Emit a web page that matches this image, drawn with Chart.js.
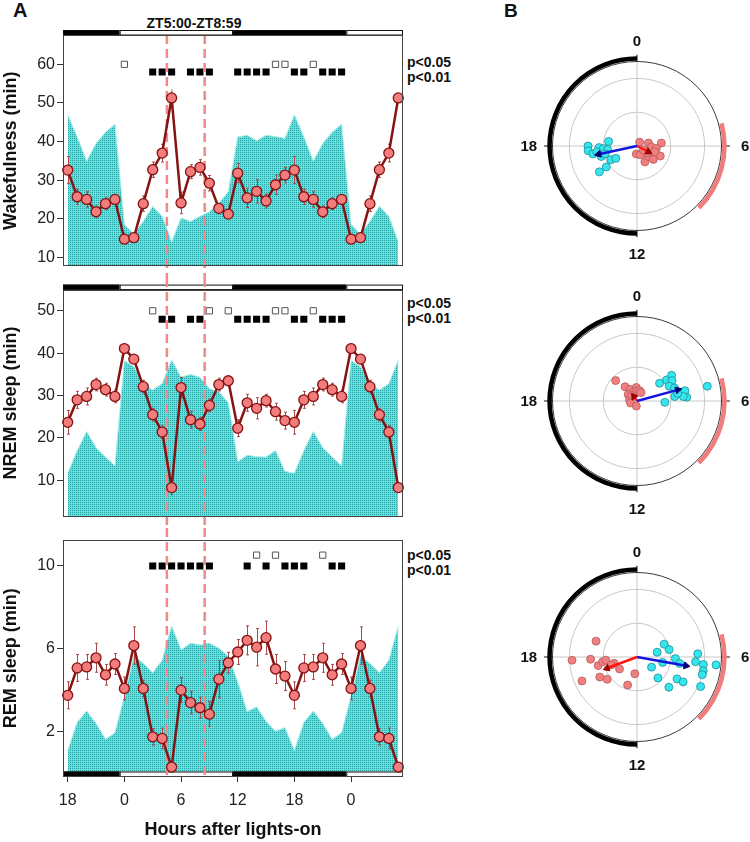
<!DOCTYPE html>
<html>
<head>
<meta charset="utf-8">
<script src="https://cdn.jsdelivr.net/npm/chart.js@4.4.1/dist/chart.umd.min.js"></script>
<style>
body { margin: 0; background: #fff; width: 750px; height: 842px; position: relative; overflow: hidden; font-family: "Liberation Sans", Arial, sans-serif; }
canvas { position: absolute; }
.t { position: absolute; font-weight: bold; color: #111; white-space: nowrap; }
.p { position: absolute; left: 407px; font-weight: bold; font-size: 14px; line-height: 15px; color: #111; }
</style>
</head>
<body>
<div class="t" style="left:13px;top:0px;font-size:20px;line-height:20px">A</div>
<div class="t" style="left:504px;top:1px;font-size:19px;line-height:19px">B</div>
<div class="t" style="left:94px;top:15px;width:200px;text-align:center;font-size:14px;line-height:16px">ZT5:00-ZT8:59</div>
<div class="p" style="top:55px">p&lt;0.05<br>p&lt;0.01</div>
<div class="p" style="top:296px">p&lt;0.05<br>p&lt;0.01</div>
<div class="p" style="top:548px">p&lt;0.05<br>p&lt;0.01</div>

<canvas id="wake" width="420" height="278" style="left:0;top:0"></canvas>
<canvas id="nrem" width="420" height="250" style="left:0;top:278px"></canvas>
<canvas id="rem" width="420" height="314" style="left:0;top:528px"></canvas>
<canvas id="polWake" width="250" height="250" style="left:512px;top:21px"></canvas>
<canvas id="polNrem" width="250" height="250" style="left:512px;top:276px"></canvas>
<canvas id="polRem" width="250" height="250" style="left:512px;top:532px"></canvas>

<script>
// hours plotted on the x axis (double-plotted day, ZT18 .. ZT5 of the next day)
const xPlot = [-6, -5, -4, -3, -2, -1, 0, 1, 2, 3, 4, 5, 6, 7, 8, 9, 10, 11,
               12, 13, 14, 15, 16, 17, 18, 19, 20, 21, 22, 23, 24, 25, 26, 27, 28, 29];
const xTickVals = [-6, 0, 6, 12, 18, 24];
const xTickLabels = ['18', '0', '6', '12', '18', '0'];
const lightDark = [[-6.5, -0.5, 1], [-0.5, 11.5, 0], [11.5, 23.5, 1], [23.5, 29.5, 0]];
const zeitWindow = [4.5, 8.5];

// values per ZT hour 0..23
const wakeMean = [14.7, 15.1, 23.9, 32.7, 37.0, 51.3, 24.1, 32.2, 33.3, 29.2, 22.7, 21.2,
                  31.8, 25.4, 27.1, 24.6, 28.8, 31.3, 32.6, 25.7, 25.0, 21.8, 23.9, 25.0];
const wakeSem = [1.0, 1.2, 2.0, 2.0, 2.3, 1.0, 2.8, 1.8, 2.0, 2.0, 1.2, 1.0,
                 2.5, 2.5, 3.0, 1.8, 2.5, 2.0, 3.5, 2.0, 2.0, 1.5, 1.5, 1.2];
const wakeCtrl = [18.5, 16.0, 19.3, 23.2, 20.6, 14.0, 20.2, 19.3, 20.6, 21.8, 24.0, 27.0,
                  41.2, 41.6, 40.2, 41.6, 41.3, 40.8, 46.9, 41.2, 34.9, 39.5, 42.4, 44.5];
const wakeP05 = [0, 16, 17, 20];
const wakeP01 = [3, 4, 5, 7, 8, 9, 12, 13, 14, 15, 18, 19, 21, 22, 23];
const wakeTicks = [10, 20, 30, 40, 50, 60];

const nremMean = [41.1, 38.6, 32.1, 25.5, 21.4, 8.3, 31.9, 24.3, 23.3, 27.7, 32.6, 33.5,
                  22.3, 28.3, 27.0, 28.8, 26.2, 24.1, 23.7, 29.0, 29.8, 32.6, 31.4, 29.8];
const nremSem = [1.0, 1.0, 1.5, 1.5, 1.5, 1.0, 2.4, 2.0, 1.5, 1.5, 1.5, 1.0,
                 2.0, 2.0, 2.5, 1.5, 2.0, 2.0, 2.8, 2.0, 2.0, 1.5, 1.5, 1.5];
const nremCtrl = [38.2, 36.8, 32.8, 31.3, 32.8, 38.4, 34.3, 35.0, 34.3, 31.6, 30.9, 28.3,
                  14.4, 15.9, 15.6, 15.5, 17.0, 12.1, 11.7, 17.0, 21.5, 17.7, 15.5, 13.4];
const nremP05 = [3, 9, 11, 16, 17, 20];
const nremP01 = [4, 5, 7, 8, 12, 13, 14, 15, 18, 19, 21, 22, 23];
const nremTicks = [10, 20, 30, 40, 50];

const remMean = [4.09, 6.16, 4.09, 1.76, 1.68, 0.30, 4.01, 3.41, 3.16, 2.85, 4.54, 5.33,
                 5.85, 6.41, 6.08, 6.54, 5.03, 4.69, 3.76, 5.08, 5.13, 5.57, 4.75, 5.27];
const remSem = [0.55, 0.9, 0.4, 0.4, 0.5, 0.2, 0.6, 0.55, 0.5, 0.6, 0.9, 0.5,
                0.6, 0.7, 0.9, 0.8, 0.7, 0.7, 0.65, 0.65, 0.6, 0.7, 0.5, 0.5];
const remCtrl = [3.7, 5.65, 5.3, 4.85, 5.45, 7.1, 5.95, 6.27, 6.19, 6.27, 6.03, 5.64,
                 4.4, 2.97, 3.2, 2.5, 2.03, 2.2, 1.1, 2.45, 3.0, 2.4, 1.64, 1.95];
const remP05 = [14, 16, 21];
const remP01 = [3, 4, 5, 6, 7, 8, 9, 13, 15, 17, 18, 19, 22, 23];
const remTicks = [2, 6, 10];

// circular plots: phase (h) and amplitude (relative), per animal
const wakeCyanPhase = [18.0, 17.63, 17.32, 17.83, 17.71, 18.61, 17.54, 16.91, 16.16, 15.98, 15.71, 15.70, 17.45, 17.07];
const wakeCyanAmp = [0.58, 0.58, 0.53, 0.45, 0.40, 0.34, 0.35, 0.44, 0.35, 0.29, 0.44, 0.54, 0.48, 0.39];
const wakeRedPhase = [2.27, 5.04, 5.54, 6.25, 6.51, 12.32, 10.7, 10.24, 8.88, 8.63, 7.55, 8.33, 8.18, 7.21];
const wakeRedAmp = [0.055, 0.14, 0.29, 0.17, 0.23, 0.095, 0.11, 0.21, 0.18, 0.25, 0.30, 0.14, 0.09, 0.22];
const wakeVectors = [[17.2, 0.465], [7.8, 0.15]];

const nremCyanPhase = [3.45, 3.64, 3.56, 3.99, 4.35, 4.73, 5.55, 5.26, 5.19, 5.71, 5.63, 6.18, 5.21, 5.29];
const nremCyanAmp = [0.34, 0.43, 0.51, 0.48, 0.42, 0.47, 0.45, 0.51, 0.58, 0.59, 0.55, 0.33, 0.85, 0.49];
const nremRedPhase = [20.91, 21.33, 21.95, 23.8, 22.4, 20.45, 18.61, 16.89, 12.5, 0.0, 0.95, 1.7, 21.0];
const nremRedAmp = [0.35, 0.22, 0.16, 0.16, 0.11, 0.13, 0.09, 0.08, 0.06, 0.12, 0.125, 0.11, 0.09];
const nremVectors = [[4.98, 0.50], [21.67, 0.065]];

const remCyanPhase = [5.11, 4.32, 5.13, 6.8, 8.33, 9.0, 8.9, 7.91, 7.89, 6.16, 6.57, 6.31, 5.8, 6.43, 6.78, 7.01, 7.66, 6.38];
const remCyanAmp = [0.245, 0.355, 0.39, 0.31, 0.21, 0.35, 0.52, 0.54, 0.62, 0.455, 0.51, 0.695, 0.72, 0.79, 0.80, 0.80, 0.83, 0.94];
const remRedPhase = [17.81, 19.41, 17.82, 16.43, 17.17, 17.47, 17.61, 16.11, 15.55, 16.96, 15.71, 13.23, 12.49, 16.87];
const remRedAmp = [0.77, 0.52, 0.55, 0.71, 0.47, 0.41, 0.37, 0.50, 0.44, 0.28, 0.25, 0.35, 0.20, 0.32];
const remVectors = [[6.67, 0.59], [16.63, 0.38]];

const polarRings = [0.4, 0.8];
const polarLabels = [['0', 0, 1.24], ['6', 6, 1.28], ['12', 12, 1.28], ['18', 18, 1.28]];
const hilightArc = [5, 9];

Chart.defaults.font.family = '"Liberation Sans", Arial, sans-serif';

function hourOf(x) { return (x + 24) % 24; }

function dotPattern() {
  const c = document.createElement('canvas');
  c.width = 2; c.height = 2;
  const g = c.getContext('2d');
  g.fillStyle = '#60e2e2';
  g.fillRect(0, 0, 2, 2);
  g.fillStyle = '#2aa0a0';
  g.fillRect(0, 0, 1, 1);
  return g.createPattern(c, 'repeat');
}
const cyanFill = dotPattern();

const panelDecor = {
  id: 'panelDecor',
  beforeDatasetDraw(chart, args, o) {
    if (args.index !== 0) return;
    const { ctx, chartArea: a, scales: { x, y } } = chart;
    ctx.save();
    // light/dark bar
    const by = o.bar === 'top' ? a.top - 5 : a.bottom - 5.5;
    lightDark.forEach(seg => {
      const x0 = x.getPixelForValue(seg[0]), x1 = x.getPixelForValue(seg[1]);
      ctx.fillStyle = seg[2] ? '#000' : '#fff';
      ctx.fillRect(x0, by, x1 - x0, 5);
      ctx.strokeStyle = '#111';
      ctx.lineWidth = 1;
      ctx.strokeRect(x0 + 0.5, by + 0.5, x1 - x0 - 1, 4.5);
    });
    // dashed window lines
    ctx.strokeStyle = '#f28888';
    ctx.lineWidth = 2.5;
    ctx.setLineDash([9, 5]);
    const y0 = o.dashTop === 'area' ? a.top : 0;
    const y1 = o.dashBottom === 'area' ? a.bottom : chart.height;
    zeitWindow.forEach(v => {
      const px = x.getPixelForValue(v);
      ctx.beginPath();
      ctx.moveTo(px, y0);
      ctx.lineTo(px, y1);
      ctx.stroke();
    });
    // error bars
    ctx.setLineDash([]);
    ctx.strokeStyle = '#a84a4a';
    ctx.lineWidth = 1;
    xPlot.forEach(xv => {
      const h = hourOf(xv);
      const px = Math.round(x.getPixelForValue(xv)) + 0.5;
      const yt = y.getPixelForValue(o.mean[h] + o.sem[h]);
      const yb = y.getPixelForValue(o.mean[h] - o.sem[h]);
      ctx.beginPath();
      ctx.moveTo(px, yt); ctx.lineTo(px, yb);
      ctx.moveTo(px - 1.5, yt); ctx.lineTo(px + 1.5, yt);
      ctx.moveTo(px - 1.5, yb); ctx.lineTo(px + 1.5, yb);
      ctx.stroke();
    });
    ctx.restore();
  },
  afterDraw(chart) {
    const { ctx, chartArea: a } = chart;
    ctx.save();
    ctx.strokeStyle = '#444';
    ctx.lineWidth = 1;
    ctx.strokeRect(Math.round(a.left) + 0.5, Math.round(a.top) + 0.5, Math.round(a.right - a.left) - 1, Math.round(a.bottom - a.top) - 1);
    ctx.restore();
  }
};

function sleepPanel(id, opt) {
  const ctx = document.getElementById(id).getContext('2d');
  const xAxis = {
    type: 'linear', min: -6.5, max: 29.5, display: opt.showX,
    afterBuildTicks: s => { s.ticks = xTickVals.map(v => ({ value: v })); },
    ticks: { callback: (v, i) => xTickLabels[i], font: { size: 16 }, color: '#222', padding: 9, maxRotation: 0, autoSkip: false },
    grid: { drawOnChartArea: false, tickLength: 5, color: '#333' },
    border: { display: false },
    title: { display: true, text: 'Hours after lights-on', font: { size: 18, weight: 'bold' }, color: '#111', padding: { top: 0, bottom: 1 } }
  };
  if (opt.showX) xAxis.afterFit = s => { s.height = 65; };
  return new Chart(ctx, {
    type: 'line',
    data: {
      datasets: [
        {
          data: xPlot.map(x => ({ x: x, y: opt.mean[hourOf(x)] })),
          borderColor: '#861212', borderWidth: 2.5, tension: 0, clip: false,
          pointRadius: 5, pointBackgroundColor: '#f37c7c', pointBorderColor: '#861212', pointBorderWidth: 1.3
        },
        {
          data: opt.p01.map(h => ({ x: h, y: opt.rowY[1] })), showLine: false,
          pointStyle: 'rect', pointRadius: 5, pointBackgroundColor: '#000', pointBorderColor: '#000', pointBorderWidth: 0
        },
        {
          data: opt.p05.map(h => ({ x: h, y: opt.rowY[0] })), showLine: false,
          pointStyle: 'rect', pointRadius: 4.4, pointBackgroundColor: '#fff', pointBorderColor: '#555', pointBorderWidth: 1
        },
        {
          data: xPlot.map(x => ({ x: x, y: opt.ctrl[hourOf(x)] })),
          fill: 'start', backgroundColor: cyanFill, borderColor: '#a4ecec', borderWidth: 1,
          pointRadius: 0, tension: 0
        }
      ]
    },
    options: {
      responsive: false, animation: false, events: [],
      layout: { padding: opt.pad },
      plugins: {
        legend: { display: false }, tooltip: { enabled: false },
        panelDecor: { mean: opt.mean, sem: opt.sem, bar: opt.bar, dashTop: opt.dashTop, dashBottom: opt.dashBottom }
      },
      scales: {
        x: xAxis,
        y: {
          type: 'linear', min: opt.yMin, max: opt.yMax,
          afterBuildTicks: s => { s.ticks = opt.ticks.map(v => ({ value: v })); },
          afterFit: s => { s.width = 63; },
          ticks: { font: { size: 16 }, color: '#222', padding: 2 },
          grid: { drawOnChartArea: false, tickLength: 6, color: '#333' },
          border: { display: false },
          title: { display: true, text: opt.title, font: { size: 18, weight: 'bold' }, color: '#111', padding: { top: 0, bottom: 0 } }
        }
      }
    },
    plugins: [panelDecor]
  });
}

sleepPanel('wake', {
  mean: wakeMean, sem: wakeSem, ctrl: wakeCtrl, p05: wakeP05, p01: wakeP01, rowY: [60, 58],
  ticks: wakeTicks, yMin: 7.65, yMax: 67.6, title: 'Wakefulness (min)',
  pad: { top: 35, right: 17, bottom: 5, left: 0 }, showX: false, bar: 'top', dashTop: 'area', dashBottom: 'canvas'
});
sleepPanel('nrem', {
  mean: nremMean, sem: nremSem, ctrl: nremCtrl, p05: nremP05, p01: nremP01, rowY: [50, 48],
  ticks: nremTicks, yMin: 1.5, yMax: 55, title: 'NREM sleep (min)',
  pad: { top: 7, right: 17, bottom: 6, left: 0 }, showX: false, bar: 'top', dashTop: 'canvas', dashBottom: 'canvas'
});
sleepPanel('rem', {
  mean: remMean, sem: remSem, ctrl: remCtrl, p05: remP05, p01: remP01, rowY: [10.52, 10],
  ticks: remTicks, yMin: -0.18, yMax: 11.27, title: 'REM sleep (min)',
  pad: { top: 6, right: 17, bottom: 0, left: 0 }, showX: true, bar: 'bottom', dashTop: 'canvas', dashBottom: 'area'
});

// ---- circular plots ----
function toXY(h, r) {
  const a = h * Math.PI / 12;
  return { x: r * Math.sin(a), y: r * Math.cos(a) };
}

const polarDecor = {
  id: 'polarDecor',
  beforeDatasetsDraw(chart) {
    const { ctx, scales: { x, y } } = chart;
    const cx = x.getPixelForValue(0), cy = y.getPixelForValue(0);
    const u = x.getPixelForValue(1) - cx;
    ctx.save();
    ctx.strokeStyle = '#c8c8c8';
    ctx.lineWidth = 1;
    polarRings.forEach(r => {
      ctx.beginPath(); ctx.arc(cx, cy, r * u, 0, Math.PI * 2); ctx.stroke();
    });
    ctx.beginPath();
    ctx.moveTo(cx - u, cy); ctx.lineTo(cx + u, cy);
    ctx.moveTo(cx, cy - u); ctx.lineTo(cx, cy + u);
    ctx.stroke();
    ctx.strokeStyle = '#111';
    ctx.beginPath();
    ctx.moveTo(cx - 1.1 * u, cy); ctx.lineTo(cx - u, cy);
    ctx.moveTo(cx + u, cy); ctx.lineTo(cx + 1.1 * u, cy);
    ctx.moveTo(cx, cy - 1.08 * u); ctx.lineTo(cx, cy - u);
    ctx.moveTo(cx, cy + u); ctx.lineTo(cx, cy + 1.08 * u);
    ctx.stroke();
    ctx.strokeStyle = '#222';
    ctx.lineWidth = 0.9;
    ctx.beginPath(); ctx.arc(cx, cy, u, 0, Math.PI * 2); ctx.stroke();
    // dark phase arc (ZT12 -> ZT24)
    ctx.strokeStyle = '#000';
    ctx.lineWidth = 4.5;
    ctx.beginPath(); ctx.arc(cx, cy, 1.035 * u, Math.PI / 2, Math.PI * 1.5); ctx.stroke();
    // ZT5-ZT9 arc
    ctx.strokeStyle = '#f07c7c';
    ctx.beginPath();
    ctx.arc(cx, cy, 1.035 * u, (hilightArc[0] * 15 - 90) * Math.PI / 180, (hilightArc[1] * 15 - 90) * Math.PI / 180);
    ctx.stroke();
    // labels
    ctx.fillStyle = '#111';
    ctx.font = 'bold 15px "Liberation Sans", Arial, sans-serif';
    ctx.textAlign = 'center';
    ctx.textBaseline = 'middle';
    polarLabels.forEach(l => {
      const p = toXY(l[1], l[2]);
      ctx.fillText(l[0], x.getPixelForValue(p.x), y.getPixelForValue(p.y) + 1);
    });
    ctx.restore();
  }
};

function arrowSet(vec, line, head) {
  return {
    type: 'line', data: [{ x: 0, y: 0 }, toXY(vec[0], vec[1])],
    borderColor: line, borderWidth: 2.5, tension: 0,
    pointStyle: 'triangle', pointRadius: [0, 4], pointRotation: vec[0] * 15,
    pointBackgroundColor: head, pointBorderColor: head, pointBorderWidth: 1
  };
}

function polarPanel(id, p) {
  const ctx = document.getElementById(id).getContext('2d');
  return new Chart(ctx, {
    type: 'scatter',
    data: {
      datasets: [
        arrowSet(p.vectors[0], '#1414e0', '#000070'),
        arrowSet(p.vectors[1], '#ff1414', '#a00000'),
        {
          data: p.cyanPhase.map((h, i) => toXY(h, p.cyanAmp[i])),
          pointRadius: 4, pointBackgroundColor: '#35e6ee', pointBorderColor: '#1f8e96', pointBorderWidth: 0.8
        },
        {
          data: p.redPhase.map((h, i) => toXY(h, p.redAmp[i])),
          pointRadius: 4, pointBackgroundColor: '#f08080', pointBorderColor: '#b45a5a', pointBorderWidth: 0.8
        }
      ]
    },
    options: {
      responsive: false, animation: false, events: [],
      layout: { padding: 0 },
      plugins: { legend: { display: false }, tooltip: { enabled: false } },
      scales: {
        x: { type: 'linear', min: -1.42, max: 1.42, display: false },
        y: { type: 'linear', min: -1.42, max: 1.42, display: false }
      }
    },
    plugins: [polarDecor]
  });
}

polarPanel('polWake', { cyanPhase: wakeCyanPhase, cyanAmp: wakeCyanAmp, redPhase: wakeRedPhase, redAmp: wakeRedAmp, vectors: wakeVectors });
polarPanel('polNrem', { cyanPhase: nremCyanPhase, cyanAmp: nremCyanAmp, redPhase: nremRedPhase, redAmp: nremRedAmp, vectors: nremVectors });
polarPanel('polRem', { cyanPhase: remCyanPhase, cyanAmp: remCyanAmp, redPhase: remRedPhase, redAmp: remRedAmp, vectors: remVectors });
</script>
</body>
</html>
